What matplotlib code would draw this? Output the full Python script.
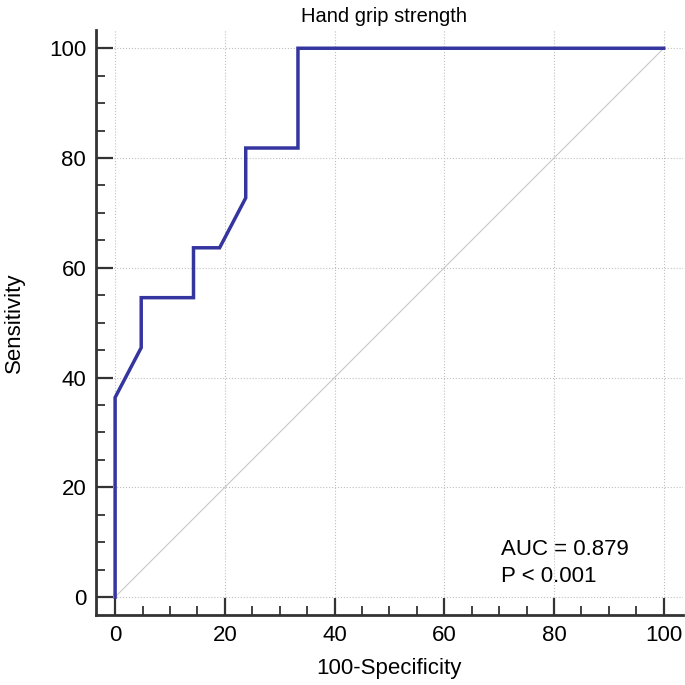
import matplotlib.pyplot as plt
from matplotlib.ticker import MultipleLocator

plt.rcParams['font.family'] = ['Liberation Sans', 'DejaVu Sans']

# ROC curve points (100-Specificity, Sensitivity)
fpr = [0, 0, 4.76, 4.76, 14.29, 14.29, 19.05, 23.81, 23.81, 33.33, 33.33, 100]
tpr = [0, 36.36, 45.45, 54.55, 54.55, 63.64, 63.64, 72.73, 81.82, 81.82, 100, 100]
auc_text = "AUC = 0.879\nP < 0.001"

fig = plt.figure(figsize=(6.85, 6.85), dpi=100)
ax = fig.add_axes([0.140, 0.102, 0.857, 0.854])

# reference diagonal
ax.plot([0, 100], [0, 100], color='#c8c8c8', lw=0.8, zorder=1)
ax.plot(fpr, tpr, color='#3535a0', lw=2.5, zorder=3, solid_joinstyle='miter')

ax.set_xlim(-3.5, 103.5)
ax.set_ylim(-3.3, 103.3)
ax.xaxis.set_major_locator(MultipleLocator(20))
ax.xaxis.set_minor_locator(MultipleLocator(5))
ax.yaxis.set_major_locator(MultipleLocator(20))
ax.yaxis.set_minor_locator(MultipleLocator(5))

for side in ['top', 'right']:
    ax.spines[side].set_visible(False)
for side in ['left', 'bottom']:
    ax.spines[side].set_linewidth(2.0)
    ax.spines[side].set_color('#333333')

ax.tick_params(which='major', direction='in', length=12, width=1.6, color='#333333',
               labelsize=16, pad=7)
ax.tick_params(which='minor', direction='in', length=6.5, width=1.3, color='#333333')

ax.grid(which='major', color='#c0c0c0', ls=':', lw=0.8, zorder=0)

ax.set_title("Hand grip strength", fontsize=14.5, pad=6, x=0.49)
ax.set_xlabel("100-Specificity", fontsize=16, labelpad=9)
ax.set_ylabel("Sensitivity", fontsize=16, labelpad=17)

ax.text(70.3, 6.2, auc_text, fontsize=16, va='center', ha='left', linespacing=1.35)

fig.savefig("out.png", dpi=100)
